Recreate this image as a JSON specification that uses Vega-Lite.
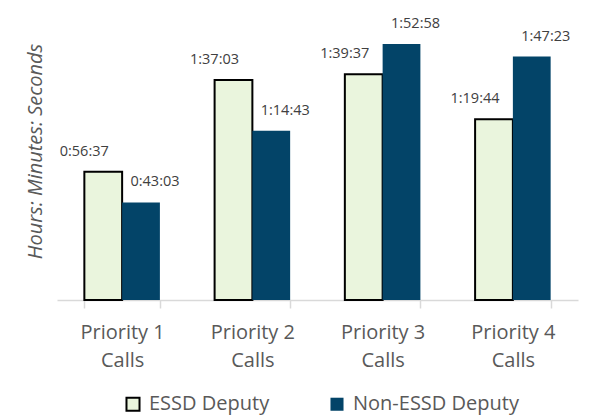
{
  "$schema": "https://vega.github.io/schema/vega-lite/v6.json",
  "width": 521,
  "height": 272,
  "autosize": "none",
  "padding": {"left": 57, "top": 28, "right": 20, "bottom": 118},
  "background": "white",
  "config": {"view": {"stroke": null}, "font": "Open Sans"},
  "data": {
    "values": [
      {"category": "Priority 1 Calls", "series": "ESSD Deputy", "seconds": 3397, "time": "0:56:37"},
      {"category": "Priority 1 Calls", "series": "Non-ESSD Deputy", "seconds": 2583, "time": "0:43:03"},
      {"category": "Priority 2 Calls", "series": "ESSD Deputy", "seconds": 5823, "time": "1:37:03"},
      {"category": "Priority 2 Calls", "series": "Non-ESSD Deputy", "seconds": 4483, "time": "1:14:43"},
      {"category": "Priority 3 Calls", "series": "ESSD Deputy", "seconds": 5977, "time": "1:39:37"},
      {"category": "Priority 3 Calls", "series": "Non-ESSD Deputy", "seconds": 6778, "time": "1:52:58"},
      {"category": "Priority 4 Calls", "series": "ESSD Deputy", "seconds": 4784, "time": "1:19:44"},
      {"category": "Priority 4 Calls", "series": "Non-ESSD Deputy", "seconds": 6443, "time": "1:47:23"}
    ]
  },
  "encoding": {
    "x": {
      "field": "category", "type": "nominal", "sort": null,
      "scale": {"paddingInner": 0.42, "paddingOuter": 0.21},
      "axis": {
        "title": null, "labelAngle": 0,
        "labelExpr": "datum.label ? [replace(datum.label, ' Calls', ''), 'Calls'] : ''",
        "labelFontSize": 20, "labelColor": "#595959", "labelLineHeight": 28,
        "labelPadding": 14, "tickBand": "extent", "tickSize": 8,
        "tickColor": "#D9D9D9", "domainColor": "#D9D9D9", "domainWidth": 1.5, "tickWidth": 1.5
      }
    },
    "xOffset": {"field": "series", "type": "nominal", "sort": ["ESSD Deputy", "Non-ESSD Deputy"]},
    "y": {
      "field": "seconds", "type": "quantitative",
      "scale": {"domain": [0, 7200]},
      "axis": {
        "title": "Hours: Minutes: Seconds", "titleFontStyle": "italic", "titleFontWeight": "normal",
        "titleFontSize": 20, "titleColor": "#595959", "titleX": -22, "titleY": 123,
        "titleAngle": 270, "titleBaseline": "middle", "titleAlign": "center",
        "labels": false, "ticks": false, "domain": false, "grid": false
      }
    }
  },
  "layer": [
    {
      "mark": {"type": "bar", "strokeWidth": 2},
      "encoding": {
        "fill": {
          "field": "series", "type": "nominal",
          "scale": {"domain": ["ESSD Deputy", "Non-ESSD Deputy"], "range": ["#EAF5DD", "#034468"]},
          "legend": {
            "title": null, "orient": "none", "legendX": 66, "legendY": 366, "direction": "horizontal",
            "labelFontSize": 20, "labelColor": "#595959", "symbolType": "square",
            "symbolSize": 170, "symbolStrokeWidth": 2, "columnPadding": 56, "labelLimit": 300, "labelOffset": 6
          }
        },
        "stroke": {
          "field": "series", "type": "nominal",
          "scale": {"domain": ["ESSD Deputy", "Non-ESSD Deputy"], "range": ["#000000", "transparent"]}
        }
      }
    },
    {
      "transform": [{"filter": "datum.series === 'ESSD Deputy'"}],
      "mark": {"type": "text", "dy": -20, "dx": -19, "fontSize": 14.5, "color": "#404040", "baseline": "middle"},
      "encoding": {"text": {"field": "time"}}
    },
    {
      "transform": [{"filter": "datum.series === 'Non-ESSD Deputy'"}],
      "mark": {"type": "text", "dy": -20, "dx": 14, "fontSize": 14.5, "color": "#404040", "baseline": "middle"},
      "encoding": {"text": {"field": "time"}}
    }
  ]
}
